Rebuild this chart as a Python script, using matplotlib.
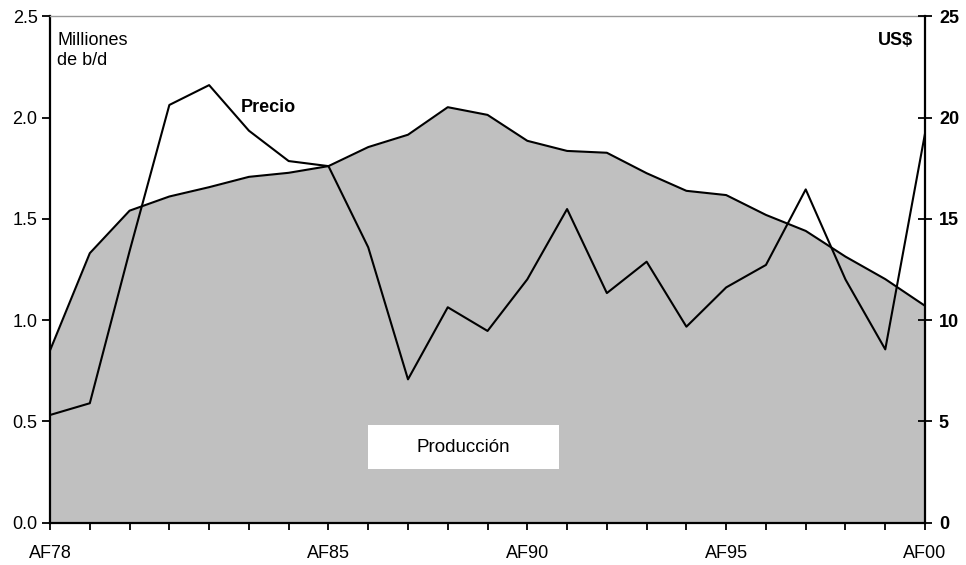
import matplotlib
matplotlib.use("Agg")
import matplotlib.pyplot as plt
from matplotlib.patches import Rectangle
import numpy as np

plt.rcParams['font.family'] = ['Liberation Sans', 'DejaVu Sans']

# years 1978..2000, one point per year
years = np.arange(78, 101)
tick_years = [78, 85, 90, 95, 100]
tick_labels = ["AF78", "AF85", "AF90", "AF95", "AF00"]

# production, millions of b/d (left axis)
produccion = [0.85, 1.33, 1.54, 1.61, 1.656, 1.707, 1.727, 1.76, 1.854, 1.915,
              2.051, 2.013, 1.885, 1.835, 1.826, 1.725, 1.638, 1.617, 1.519,
              1.44, 1.313, 1.202, 1.07]

# price, US$ (right axis)
precio = [5.31, 5.89, 13.4, 20.62, 21.6, 19.35, 17.85, 17.6, 13.59, 7.07,
          10.63, 9.46, 12.01, 15.48, 11.33, 12.88, 9.67, 11.61, 12.72, 16.45,
          12.0, 8.55, 19.22]

fs = 13

fig = plt.figure(figsize=(9.66, 5.65), dpi=100)
ax = fig.add_axes([0.0518, 0.0752, 0.9058, 0.896])

ax.fill_between(years, produccion, 0, color="#c0c0c0", lw=0, zorder=1)
ax.plot(years, produccion, color="black", lw=1.5, zorder=2)
ax.set_xlim(78, 100)
ax.set_ylim(0, 2.5)
ax.set_yticks([0, 0.5, 1.0, 1.5, 2.0, 2.5])
ax.set_yticklabels(["0.0", "0.5", "1.0", "1.5", "2.0", "2.5"])
ax.set_xticks(years, minor=True)
ax.set_xticks(tick_years)
ax.set_xticklabels(tick_labels)
ax.tick_params(axis="x", which="both", direction="out", length=5, width=1.3,
               labelsize=fs, pad=11.5)
ax.tick_params(axis="y", direction="out", length=6, width=1.3, labelsize=fs, pad=3)

for s in ["left", "bottom"]:
    ax.spines[s].set_linewidth(1.6)
ax.spines["top"].set_color("#999999")
ax.spines["top"].set_linewidth(1.0)
ax.spines["right"].set_visible(False)

ax2 = ax.twinx()
ax2.plot(years, precio, color="black", lw=1.5, zorder=3)
ax2.set_ylim(0, 25)
ax2.set_yticks([0, 5, 10, 15, 20, 25])
ax2.tick_params(axis="y", direction="inout", length=10, width=1.3, labelsize=fs, pad=5)
for lab in ax2.get_yticklabels():
    lab.set_fontweight("bold")
ax2.spines["right"].set_linewidth(1.6)
for s in ["left", "top", "bottom"]:
    ax2.spines[s].set_visible(False)

ax.text(0.008, 0.968, "Milliones\nde b/d", transform=ax.transAxes, ha="left", va="top",
        fontsize=fs, linespacing=1.2)
ax.text(0.986, 0.968, "US$", transform=ax.transAxes, ha="right", va="top",
        fontsize=fs, fontweight="bold")
ax2.text(83.5, 20.5, "Precio", ha="center", va="center", fontsize=fs, fontweight="bold")

# white label box over the production area
ax.add_patch(Rectangle((86.0, 0.264), 4.8, 0.218, fc="white", ec="none", zorder=5))
ax.text(88.4, 0.37, "Producción", ha="center", va="center", fontsize=13.5, zorder=6)

fig.savefig("out.png", dpi=100)
